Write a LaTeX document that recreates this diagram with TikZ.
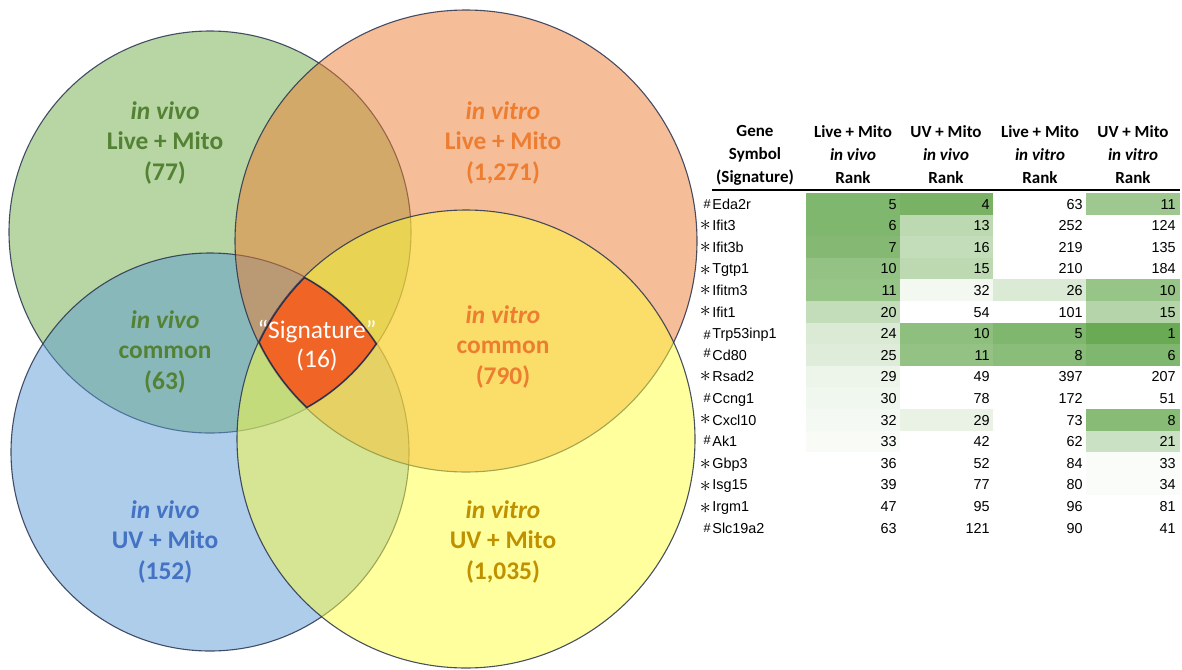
\documentclass[tikz,border=0pt]{standalone}
\usepackage{fontspec}
\setmainfont{Carlito}
\newfontfamily\tabfont{Liberation Sans}
\usetikzlibrary{positioning}
\definecolor{vgreen}{RGB}{112,173,71}
\definecolor{vblue}{RGB}{91,155,213}
\definecolor{vorange}{RGB}{237,125,49}
\definecolor{vyellow}{RGB}{255,255,60}
\definecolor{sigred}{RGB}{240,100,38}
\definecolor{txgreen}{RGB}{84,130,53}
\definecolor{txorange}{RGB}{237,125,49}
\definecolor{txblue}{RGB}{68,114,196}
\definecolor{txgold}{RGB}{191,144,0}
\definecolor{cellgreen}{RGB}{106,170,84}
\definecolor{rimline}{RGB}{40,50,80}
\newcommand\mkhash{{\fontsize{6.4}{6}\selectfont\#}}
\newcommand\mkhashup{\raisebox{1.6pt}{\fontsize{6.4}{6}\selectfont\#}}
\newcommand\mkstar{{\fontsize{10.5}{10}\selectfont$\ast$}}
\tikzset{
  setcircle/.style={fill=#1, fill opacity=0.5, draw=rimline, draw opacity=0.85, line width=0.55pt},
  setlabel/.style={font=\fontsize{12.7}{15.3}\selectfont\bfseries, align=center, text=#1, inner sep=0pt},
  siglabel/.style={font=\fontsize{12.7}{14.5}\selectfont, align=center, text=white, inner sep=0pt},
  headcell/.style={font=\fontsize{8.5}{11.5}\selectfont\bfseries, align=center, inner sep=0pt},
  genecell/.style={font=\tabfont\fontsize{7.2}{8}\selectfont, anchor=base west, inner sep=0pt},
  markcell/.style={font=\tabfont\fontsize{7.2}{8}\selectfont, inner sep=0pt},
  rankcell/.style={font=\tabfont\fontsize{7.2}{8}\selectfont, anchor=base east, inner sep=0pt},
  headrule/.style={draw=black, line width=1pt}
}
\def\rG{100.5pt}
\def\rB{99.5pt}
\def\rO{115.5pt}
\def\rY{114.5pt}
\begin{document}
\begin{tikzpicture}[x=0.5pt, y=-0.5pt]
  \useasboundingbox (0,0) rectangle (1182,669);
  \coordinate (cG) at (210,232);
  \coordinate (cB) at (210,452);
  \coordinate (cO) at (466,241);
  \coordinate (cY) at (466,439);

  % the four sets
  \path[setcircle=vgreen] (cG) circle[radius=\rG];
  \path[setcircle=vblue] (cB) circle[radius=\rB];
  \path[setcircle=vorange] (cO) circle[radius=\rO];
  \path[setcircle=vyellow] (cY) circle[radius=\rY];

  % signature: all four
  \begin{scope}
    \clip (cG) circle[radius=\rG];
    \clip (cB) circle[radius=\rB];
    \clip (cO) circle[radius=\rO];
    \clip (cY) circle[radius=\rY];
    \fill[sigred] (0,0) rectangle (700,669);
    \foreach \c/\r in {cG/\rG,cB/\rB,cO/\rO,cY/\rY}{
      \draw[rimline, line width=1.4pt] (\c) circle[radius=\r];
    }
  \end{scope}

  \node[setlabel=txgreen] (vivoLive) at (165,143) {\textit{in vivo}\\Live + Mito\\(77)};
  \node[setlabel=txorange] (vitroLive) at (503,143) {\textit{in vitro}\\Live + Mito\\(1,271)};
  \node[setlabel=txgreen] (vivoCommon) at (165,352) {\textit{in vivo}\\common\\(63)};
  \node[setlabel=txorange] (vitroCommon) at (503,347) {\textit{in vitro}\\common\\(790)};
  \node[siglabel] (signature) at (317,346) {“Signature”\\(16)};
  \node[setlabel=txblue] (vivoUV) at (165,542) {\textit{in vivo}\\UV + Mito\\(152)};
  \node[setlabel=txgold] (vitroUV) at (503,542) {\textit{in vitro}\\UV + Mito\\(1,035)};

  % rank table
  \node[headcell] (hGene) at (755,155) {Gene\\Symbol\\(Signature)};
  \node[headcell] (hLiveVivo) at (853,155) {Live + Mito\\\textit{in vivo}\\Rank};
  \node[headcell] (hUVVivo) at (946,155) {UV + Mito\\\textit{in vivo}\\Rank};
  \node[headcell] (hLiveVitro) at (1040,155) {Live + Mito\\\textit{in vitro}\\Rank};
  \node[headcell] (hUVVitro) at (1133,155) {UV + Mito\\\textit{in vitro}\\Rank};
  \draw[headrule] (712,190) -- (1180,190);

  \foreach \mk/\gene/\a/\pa/\b/\pb/\c/\pc/\d/\pd [count=\r] in {
    \mkhash/Eda2r/5/85/4/90/63/0/11/65,
    \mkstar/Ifit3/6/85/13/45/252/0/124/0,
    \mkstar/Ifit3b/7/82/16/40/219/0/135/0,
    \mkstar/Tgtp1/10/72/15/45/210/0/184/0,
    \mkstar/Ifitm3/11/70/32/8/26/25/10/70,
    \mkstar/Ifit1/20/40/54/0/101/0/15/50,
    \mkhash/Trp53inp1/24/25/10/75/5/85/1/100,
    \mkhashup/Cd80/25/22/11/72/8/78/6/85,
    \mkstar/Rsad2/29/12/49/0/397/0/207/0,
    \mkhashup/Ccng1/30/10/78/0/172/0/51/0,
    \mkstar/Cxcl10/32/7/29/15/73/0/8/80,
    \mkhashup/Ak1/33/5/42/0/62/0/21/35,
    \mkstar/Gbp3/36/0/52/0/84/0/33/4,
    \mkstar/Isg15/39/0/77/0/80/0/34/3,
    \mkstar/Irgm1/47/0/95/0/96/0/81/0,
    \mkhash/Slc19a2/63/0/121/0/90/0/41/0}{
    \pgfmathsetmacro\yy{204+(\r-1)*21.6}
    \fill[cellgreen!\pa] (806,\yy-11) rectangle (900,\yy+11);
    \fill[cellgreen!\pb] (900,\yy-11) rectangle (993,\yy+11);
    \fill[cellgreen!\pc] (993,\yy-11) rectangle (1086,\yy+11);
    \fill[cellgreen!\pd] (1086,\yy-11) rectangle (1180,\yy+11);
    \node[genecell] (g\r) at (712,\yy+5) {\gene};
    \node[markcell, left=0.4pt of g\r.west] (m\r) {\mk};
    \node[rankcell] (a\r) at (897,\yy+5) {\a};
    \node[rankcell] (b\r) at (990,\yy+5) {\b};
    \node[rankcell] (c\r) at (1083,\yy+5) {\c};
    \node[rankcell] (d\r) at (1176,\yy+5) {\d};
  }
\end{tikzpicture}
\end{document}
